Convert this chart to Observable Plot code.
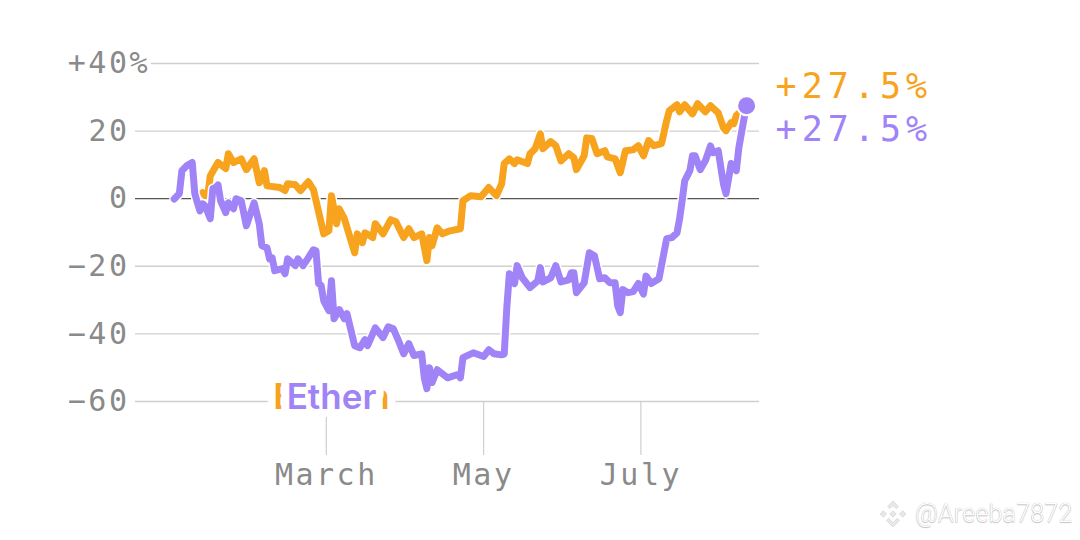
<!DOCTYPE html>
<html>
<head>
<meta charset="utf-8">
<script src="https://cdn.jsdelivr.net/npm/d3@7"></script>
<script src="https://cdn.jsdelivr.net/npm/@observablehq/plot@0.6"></script>
<style>
html,body{margin:0;padding:0;background:#fff;overflow:hidden}
#chart{position:relative;width:1080px;height:540px}
#chart svg.plot{display:block}
.mono text{letter-spacing:2.5px}
#mark{position:absolute;left:879px;top:499px;display:flex;align-items:center;gap:8px;
 font:300 25px Roboto,sans-serif;letter-spacing:.2px;color:#fff;
 text-shadow:0 0 1px #aaa,0 1px 1px #c4c4c4}
</style>
</head>
<body>
<div id="chart"></div>
<script>
const etherDays = [0,2,3,5,7,8,9,10,11,12,14,15,16,17,18,20,21,23,24,26,28,31,33,34,36,37,38,39,42,43,44,47,48,50,52,54,55,56,57,58,60,61,62,64,66,67,70,72,74,75,78,81,83,85,87,89,91,93,96,97,98,99,100,102,106,110,111,112,116,120,122,124,127,128,129,130,132,133,135,138,141,142,143,146,148,150,153,154,155,156,159,161,163,165,167,169,171,172,173,174,176,178,180,182,183,185,188,191,193,195,196,197,198,200,201,202,204,206,208,209,211,213,214,216,218,219,221,222];
const etherValues = [-0.1,1.5,8.3,9.8,10.7,1.5,-1.2,-3.6,-1.5,-2.1,-5.9,3,3.3,4.1,-0.6,-4.1,-1.2,-3,0,-0.6,-8,-1.2,-7.4,-13.9,-14.5,-17.8,-17.5,-21.3,-20.7,-22.2,-17.8,-19.8,-17.8,-19.8,-17.5,-15.1,-15.4,-25.1,-25.7,-30.2,-33.1,-24.3,-35.5,-32.8,-35.5,-34,-43.5,-44.1,-41.7,-43.5,-38.2,-41.1,-37.9,-38.5,-42,-45.9,-42.9,-46.4,-45.9,-53,-56.2,-50,-54.4,-50.6,-53,-52,-53,-47,-45.6,-46.7,-44.7,-45.9,-46.2,-46,-32.2,-22.2,-25.1,-19.8,-23.4,-26.3,-24.3,-20.4,-24.6,-23.4,-19.8,-24.6,-24,-21.9,-21.9,-27.8,-24.9,-16,-16.9,-23.7,-23.4,-24.9,-24.9,-31.7,-33.7,-26.9,-27.8,-27.5,-25.1,-28.2,-22.9,-25.1,-23.7,-11.8,-11.5,-10.1,-6,-0.6,5.3,8.3,12.7,12.7,8.6,11.2,15.6,13.6,14.2,4.4,1.5,10.4,8.3,15.1,23.7,27.5];
const bitcoinDays = [11,12,13,14,17,20,21,23,26,28,31,33,35,36,41,43,44,47,49,52,54,58,60,61,63,64,66,70,71,73,74,77,78,81,84,86,89,91,93,96,98,99,100,102,104,107,111,112,115,119,122,125,127,128,130,132,133,137,138,140,142,143,146,148,150,153,155,156,159,160,162,164,167,168,171,173,175,178,180,182,184,186,189,191,192,195,196,198,201,203,206,208,211,213,214,216,217,218,222];
const bitcoinValues = [1.8,0.9,0.9,6.8,10.7,8.9,13.3,10.7,11.8,8.6,11.8,4.7,8.3,3.8,3.3,2.4,4.4,4.1,2.4,5,2.7,-10.4,-9.5,0.9,-7.4,-3,-5.9,-16,-10.4,-13,-10.1,-11.5,-7.4,-10.4,-6.2,-6.8,-11.5,-8.9,-11.5,-10.4,-18.3,-11.5,-13.9,-8.6,-10.4,-9.5,-8.9,-0.6,0.9,0.6,3.3,0.9,4.4,10.4,11.8,10.4,11.5,10.4,13.3,14.8,19.2,14.8,16.9,15.7,11.2,13.3,12.1,8.6,12.7,18,17.8,13.3,14.2,12.4,11.8,7.7,14.2,14.5,15.7,12.7,17.2,15.7,16.3,23.1,26,27.8,25.7,27.8,25.1,28.1,25.7,27.5,25.4,21,20.1,22.5,22.2,24.6,27.5];
const yTicks = [40,20,0,-20,-40,-60];
const yTickLabels = ["+40","20","0","−20","−40","−60"];
const monthDays = [59,120,181];
const monthLabels = ["March","May","July"];

const orange = "#f8a31d", purple = "#a083f6", gray = "#8a8a8a";
const MONO = "DejaVu Sans Mono";
const toDate = d => new Date(Date.UTC(2023, 0, 1 + d));
const ether = etherDays.map((d,i)=>({date:toDate(d), value:etherValues[i]}));
const bitcoin = bitcoinDays.map((d,i)=>({date:toDate(d), value:bitcoinValues[i]}));
const monthDates = monthDays.map(toDate);
const last = ether[ether.length-1];
const endLabel = "+" + last.value.toFixed(1) + "%";

const plot = Plot.plot({
  width:1080, height:540,
  marginLeft:135, marginRight:321, marginTop:63, marginBottom:139,
  style:{background:"#fff", overflow:"visible"},
  x:{type:"utc", domain:[toDate(-15), toDate(227)]},
  y:{domain:[-60,40]},
  marks:[
    Plot.ruleY(yTicks.filter(v=>v!==0), {stroke:"#cfcfcf", strokeWidth:1.4}),
    Plot.ruleY([0], {stroke:"#555", strokeWidth:1.3}),
    Plot.axisX({
      ticks:monthDates, tickFormat:d=>monthLabels[monthDates.findIndex(m=>+m===+d)],
      anchor:"bottom", tickSize:54, tickPadding:8, stroke:"#cfcfcf", strokeWidth:1.2, strokeOpacity:1,
      fill:gray, color:gray, fontSize:30, fontFamily:MONO, label:null, className:"mono"
    }),
    Plot.text([["Bitcoin",orange],["Ether",purple]], {
      x:()=>toDate(61), y:()=>-59, text:d=>d[0], fill:d=>d[1],
      stroke:"white", strokeWidth:16, fontSize:35, fontWeight:600, fontFamily:"Inter",
      lineAnchor:"middle", textAnchor:"middle"
    }),
    Plot.axisY({
      ticks:yTicks, tickFormat:v=>yTickLabels[yTicks.indexOf(v)],
      anchor:"left", tickSize:0, tickPadding:6, fill:gray, fontSize:30, fontFamily:MONO, label:null, className:"mono"
    }),
    Plot.text(["%"], {
      x:()=>toDate(-15), y:()=>40, text:d=>d, dx:-6, textAnchor:"start", fill:gray,
      stroke:"white", strokeWidth:10, fontSize:30, fontFamily:MONO
    }),
    Plot.line(bitcoin, {x:"date", y:"value", stroke:"white", strokeWidth:10}),
    Plot.line(bitcoin, {x:"date", y:"value", stroke:orange, strokeWidth:7, strokeLinejoin:"round"}),
    Plot.line(ether, {x:"date", y:"value", stroke:"white", strokeWidth:10}),
    Plot.line(ether, {x:"date", y:"value", stroke:purple, strokeWidth:7, strokeLinejoin:"round"}),
    Plot.dot([last], {x:"date", y:"value", r:9.5, fill:purple, stroke:"white", strokeWidth:2}),
    Plot.text([endLabel], {
      x:()=>last.date, y:()=>last.value, text:d=>d, fill:orange, dx:29, dy:-19,
      textAnchor:"start", fontSize:35, fontFamily:MONO
    }),
    Plot.text([endLabel], {
      x:()=>last.date, y:()=>last.value, text:d=>d, fill:purple, dx:29, dy:24,
      textAnchor:"start", fontSize:35, fontFamily:MONO
    })
  ]
});
const host = document.getElementById("chart");
host.appendChild(plot);
d3.select(plot).selectAll("text").filter(function(){return this.textContent===endLabel;}).style("letter-spacing","5px");
const wm = document.createElement("div");
wm.id = "mark";
wm.innerHTML = '<svg width="28" height="28" viewBox="0 0 26 26"><g fill="#e8e8e8" stroke="#cfcfcf" stroke-width=".6"><path d="M13 1l5 5-2 2-3-3-3 3-2-2z"/><path d="M1 13l3-3 3 3-3 3z"/><path d="M25 13l-3-3-3 3 3 3z"/><path d="M13 10l3 3-3 3-3-3z"/><path d="M13 25l-6-6 2-2 4 4 4-4 2 2z"/></g></svg><span>@Areeba7872</span>';
host.appendChild(wm);
</script>
</body>
</html>
